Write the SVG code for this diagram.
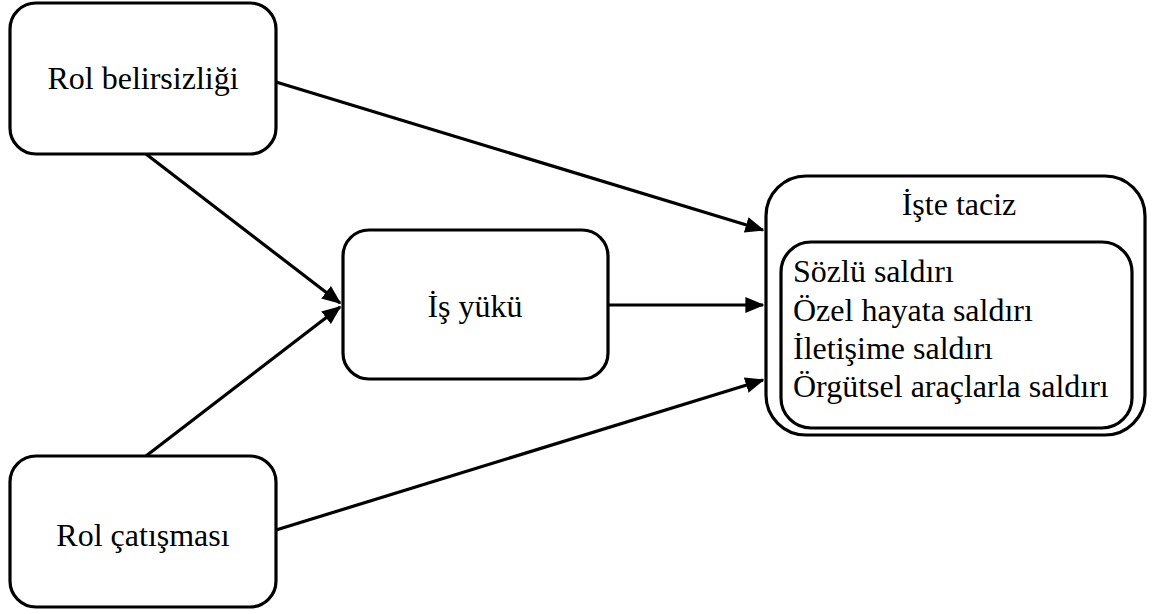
<svg xmlns="http://www.w3.org/2000/svg" width="1159" height="614" viewBox="0 0 1159 614">
<defs>
<style>
.box{fill:#fff;stroke:#000;stroke-width:3.2}
.t{font-size:32px;fill:#000}
.c{stroke:#000;stroke-width:3.2;fill:none;marker-end:url(#ah)}
</style>
<marker id="ah" markerWidth="6" markerHeight="5" refX="5.5" refY="2.5" orient="auto" markerUnits="strokeWidth">
<path d="M0,0 L6,2.5 L0,5 Z" fill="#000"/>
</marker>
</defs>
<rect width="1159" height="614" fill="#fff"/>
<g id="connectors">
<line class="c" x1="276" y1="82" x2="763" y2="230"/>
<line class="c" x1="146" y1="154" x2="340" y2="303"/>
<line class="c" x1="146" y1="456" x2="340" y2="307"/>
<line class="c" x1="608" y1="305" x2="763" y2="305"/>
<line class="c" x1="276" y1="530" x2="763" y2="380"/>
</g>
<g font-family="'Liberation Serif', 'Times New Roman', 'DejaVu Serif', serif">
<g id="rol-belirsizligi">
<rect class="box" x="10" y="3" width="266" height="151" rx="26"/>
<text class="t" x="143" y="89" text-anchor="middle">Rol belirsizliği</text>
</g>
<g id="rol-catismasi">
<rect class="box" x="10" y="456" width="266" height="151" rx="26"/>
<text class="t" x="143" y="546" text-anchor="middle">Rol çatışması</text>
</g>
<g id="is-yuku">
<rect class="box" x="343" y="230" width="265" height="149" rx="26"/>
<text class="t" x="475" y="317" text-anchor="middle">İş yükü</text>
</g>
<g id="iste-taciz">
<rect class="box" x="766" y="176" width="379" height="259" rx="40"/>
<text class="t" x="959" y="215" text-anchor="middle">İşte taciz</text>
<rect class="box" x="781" y="242" width="351" height="186" rx="30"/>
<text class="t" x="793" y="282">Sözlü saldırı</text>
<text class="t" x="793" y="321">Özel hayata saldırı</text>
<text class="t" x="793" y="359">İletişime saldırı</text>
<text class="t" x="793" y="397">Örgütsel araçlarla saldırı</text>
</g>
</g>
</svg>
